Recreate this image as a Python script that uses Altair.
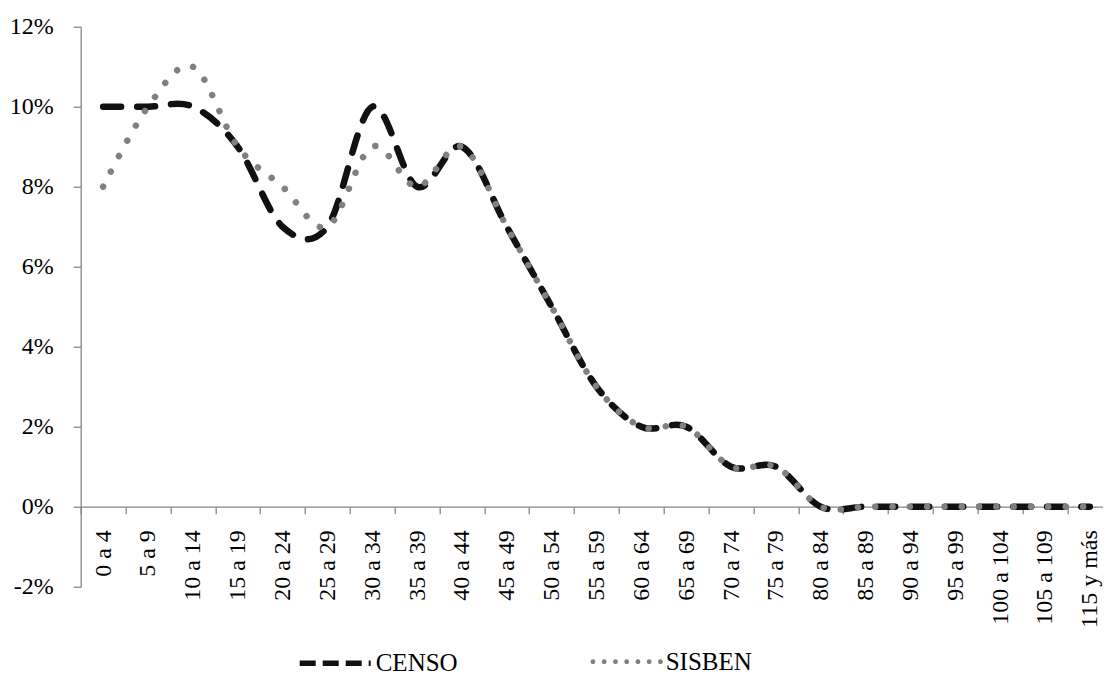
import altair as alt
import pandas as pd

categories = ["0 a 4", "5 a 9", "10 a 14", "15 a 19", "20 a 24", "25 a 29",
              "30 a 34", "35 a 39", "40 a 44", "45 a 49", "50 a 54", "55 a 59",
              "60 a 64", "65 a 69", "70 a 74", "75 a 79", "80 a 84", "85 a 89",
              "90 a 94", "95 a 99", "100 a 104", "105 a 109", "115 y más"]
censo = [10, 10, 10, 9, 7, 7, 10, 8, 9, 7, 5, 3, 2, 2, 1, 1, 0, 0, 0, 0, 0, 0, 0]
sisben = [8, 10, 11, 9, 8, 7, 9, 8, 9, 7, 5, 3, 2, 2, 1, 1, 0, 0, 0, 0, 0, 0, 0]
series = ["CENSO", "SISBEN"]
series_colors = ["#111111", "#808080"]
y_ticks = [-2, 0, 2, 4, 6, 8, 10, 12]

rows = []
for s, vals in zip(series, [censo, sisben]):
    for c, v in zip(categories, vals):
        rows.append({"grupo": c, "valor": v, "serie": s})
df = pd.DataFrame(rows)

FONT = "Liberation Serif"
AXIS_GREY = "#868686"
STEP = 44.85
N = len(categories)


def dots_path(n=7, r=0.035):
    parts = []
    for k in range(n):
        cx = -0.95 + k * (1.9 / (n - 1))
        parts.append(f"M{cx - r:.4f},0a{r},{r} 0 1,0 {2 * r},0a{r},{r} 0 1,0 {-2 * r},0")
    return "".join(parts)


x_enc = alt.X(
    "grupo:N", sort=categories,
    scale=alt.Scale(type="point", padding=0.5, range=[0, STEP * N]),
    axis=alt.Axis(
        title=None, labelAngle=-90, offset=-80,
        tickOffset=-STEP / 2, labelOffset=STEP / 2,
        tickSize=7, tickWidth=1.3, tickColor=AXIS_GREY,
        domainColor=AXIS_GREY, domainWidth=1.3,
        labelFont=FONT, labelFontSize=24, labelColor="#000000",
        labelPadding=16, labelOverlap=False, grid=False,
    ),
)
y_enc = alt.Y(
    "valor:Q",
    scale=alt.Scale(domain=[-2, 12], nice=False, zero=False),
    axis=alt.Axis(
        title=None, values=y_ticks, labelExpr="datum.value + '%'",
        tickSize=7.4, tickWidth=1.3, tickColor=AXIS_GREY,
        domainColor=AXIS_GREY, domainWidth=1.3,
        labelFont=FONT, labelFontSize=24, labelColor="#000000",
        labelPadding=20, grid=False,
    ),
)

legend_common = dict(
    title=None, orient="none", legendY=598, symbolSize=5041,
    labelFont=FONT, labelFontSize=25, labelColor="#000000", labelOffset=2,
)

censo_legend = alt.Legend(
    legendX=216, symbolType="stroke", symbolDash=[16, 7], symbolStrokeWidth=5.5,
    **legend_common,
)
sisben_legend = alt.Legend(
    legendX=509, symbolType=dots_path(), symbolStrokeWidth=2.4,
    **legend_common,
)

censo_line = alt.Chart(df).transform_filter(alt.datum.serie == "CENSO").mark_line(
    interpolate="cardinal", strokeWidth=6.5, strokeCap="round", strokeDash=[18, 16]
).encode(
    x=x_enc, y=y_enc,
    color=alt.Color("serie:N", scale=alt.Scale(domain=[series[0]], range=[series_colors[0]]),
                    legend=censo_legend),
)
sisben_line = alt.Chart(df).transform_filter(alt.datum.serie == "SISBEN").mark_line(
    interpolate="cardinal", strokeWidth=6.5, strokeCap="round", strokeDash=[0.01, 17.3]
).encode(
    x=x_enc, y=y_enc,
    color=alt.Color("serie:N", scale=alt.Scale(domain=[series[1]], range=[series_colors[1]]),
                    legend=sisben_legend),
)

chart = alt.layer(censo_line, sisben_line).resolve_scale(
    color="independent"
).resolve_legend(color="independent").properties(
    width=1022.3, height=560,
    autosize=alt.AutoSizeParams(type="none"),
    padding={"left": 72.7, "top": 18.7, "right": 0, "bottom": 90.3},
).configure(font=FONT, background="#ffffff").configure_view(strokeWidth=0)

chart.save("out.html", embed_options={"renderer": "svg", "actions": False})
